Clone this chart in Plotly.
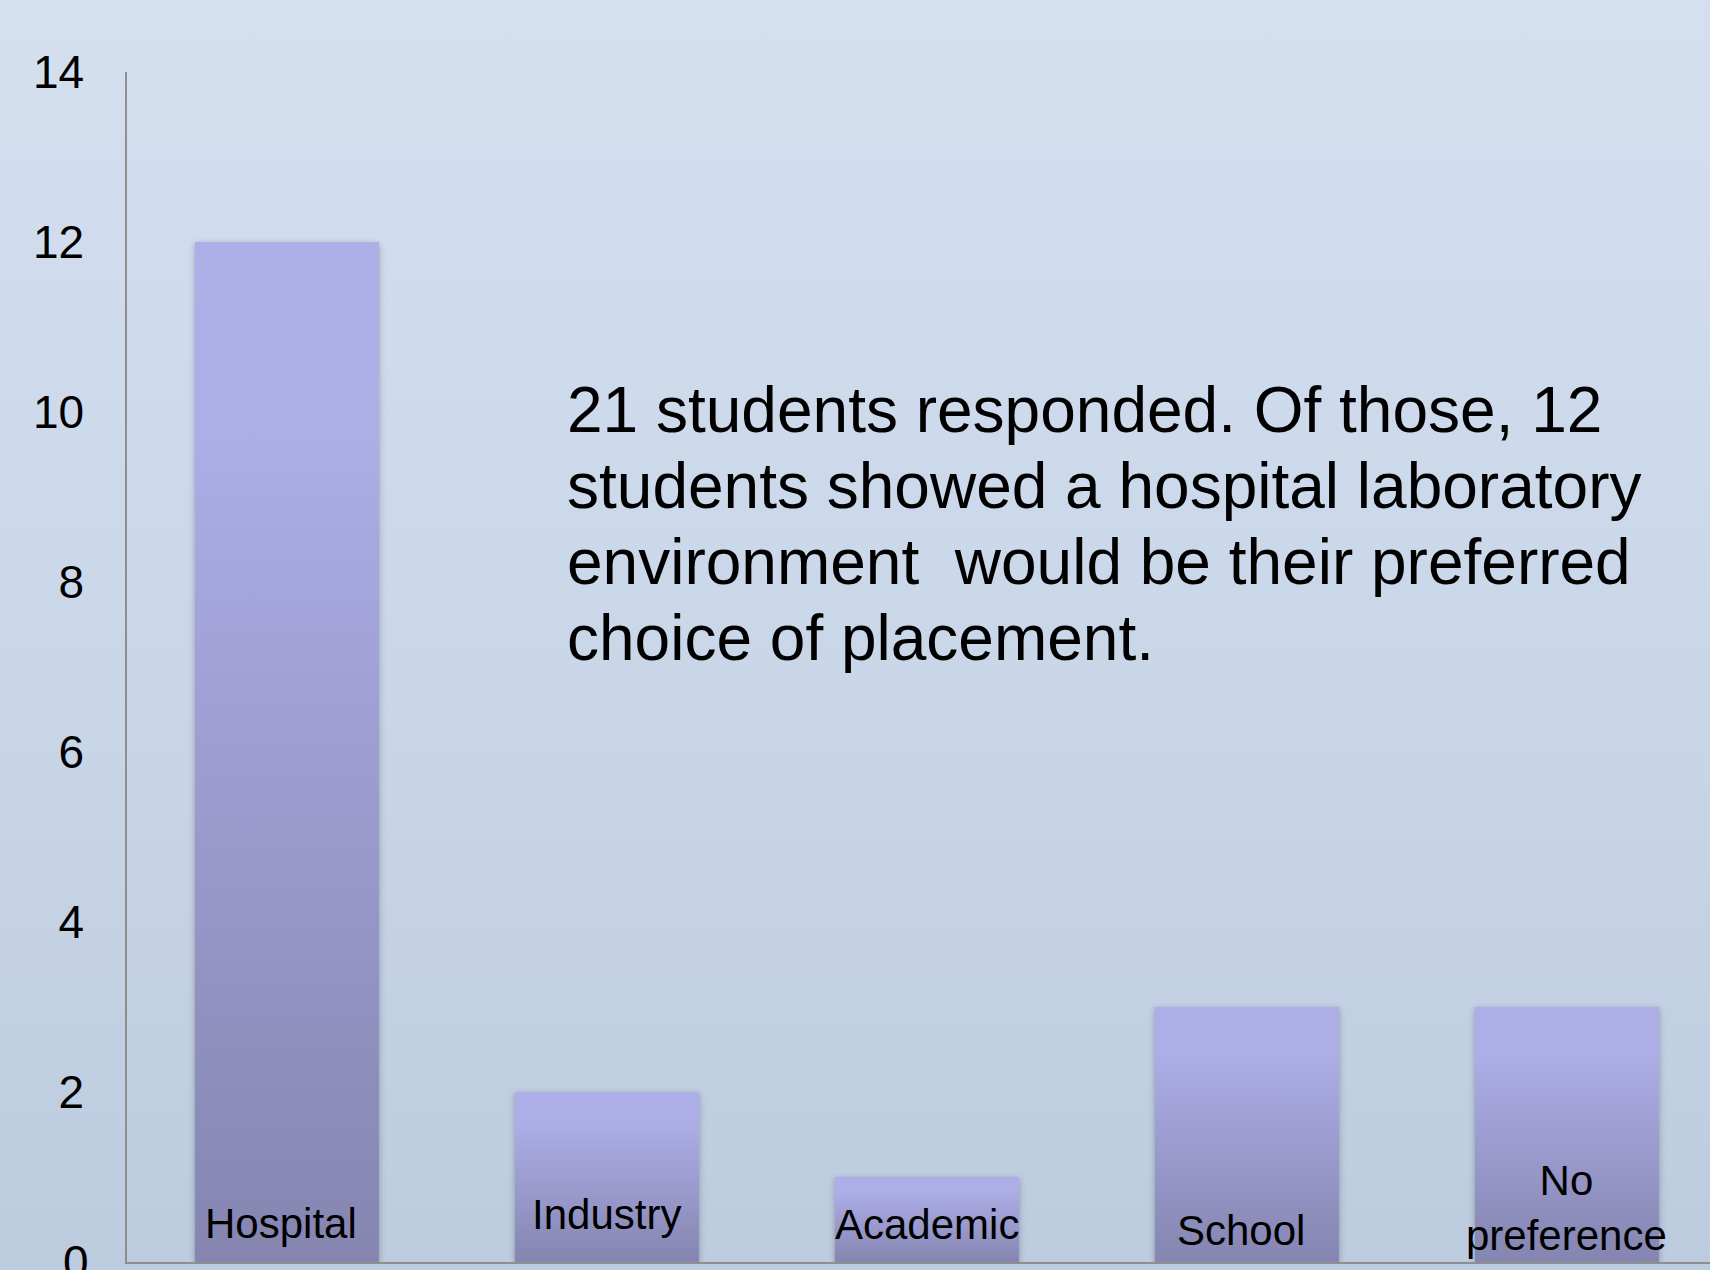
import plotly.graph_objects as go

# ---- data ----
categories = ["Hospital", "Industry", "Academic", "School", "No preference"]
category_labels = ["Hospital", "Industry", "Academic", "School", "No<br>preference"]
counts = [12, 2, 1, 3, 3]
y_ticks = [0, 2, 4, 6, 8, 10, 12, 14]
note_lines = [
    "21 students responded. Of those, 12",
    "students showed a hospital laboratory",
    "environment  would be their preferred",
    "choice of placement.",
]

# ---- layout helpers (positions / styles) ----
label_yshift = [39, 48, 38, 32, 54]
label_xshift = [-6, 0, 0, -6, 0]
note_y = [0.716, 0.652, 0.588, 0.524]
FONT = "Liberation Sans, Arial, sans-serif"
TICK_SIZE = 46
TICK_LEN = 32

fig = go.Figure()
fig.add_trace(go.Bar(
    x=list(range(len(categories))),
    y=counts,
    width=0.575,
    marker=dict(color="#9C9CD4", line=dict(width=0)),
    hoverinfo="skip",
    showlegend=False,
    customdata=categories,
))

annotations = []
for i, lab in enumerate(category_labels):
    annotations.append(dict(
        x=i, y=0, xref="x", yref="y", text=lab, showarrow=False,
        xanchor="center", yanchor="middle",
        yshift=label_yshift[i], xshift=label_xshift[i],
        font=dict(family=FONT, size=42, color="#000000"),
    ))
for j, line in enumerate(note_lines):
    annotations.append(dict(
        x=0.2765, y=note_y[j], xref="paper", yref="paper", text=line,
        showarrow=False, xanchor="left", yanchor="middle",
        font=dict(family=FONT, size=64, color="#000000"),
    ))
# the bottom tick label sits on the page edge; Plotly drops it, so draw it as text
annotations.append(dict(
    x=0, y=y_ticks[0], xref="paper", yref="y", text=str(y_ticks[0]),
    showarrow=False, xanchor="right", yanchor="middle", xshift=-(TICK_LEN + 4),
    font=dict(family=FONT, size=TICK_SIZE, color="#000000"),
))

fig.update_layout(
    width=1710, height=1270,
    margin=dict(l=127, r=0, t=72, b=8, pad=0),
    paper_bgcolor="rgba(0,0,0,0)",
    plot_bgcolor="rgba(0,0,0,0)",
    showlegend=False,
    annotations=annotations,
    xaxis=dict(
        range=[-0.5, 4.447], showticklabels=False, ticks="",
        showgrid=False, zeroline=False, showline=True,
        linecolor="#8E8E8E", linewidth=1.5, fixedrange=True,
    ),
    yaxis=dict(
        range=[0, 14], tickvals=y_ticks[1:], ticktext=[str(v) for v in y_ticks[1:]],
        showgrid=False, zeroline=False, showline=True,
        linecolor="#8E8E8E", linewidth=1.5,
        ticks="outside", ticklen=TICK_LEN, tickcolor="rgba(0,0,0,0)",
        tickfont=dict(family=FONT, size=TICK_SIZE, color="#000000"),
        fixedrange=True,
    ),
)

post_script = """
var gd = document.getElementById('{plot_id}');
document.documentElement.style.margin = '0';
document.body.style.margin = '0';
var bgGrad = 'linear-gradient(to bottom, #D4E0F0 0%, #C9D6E8 55%, #BCCBDE 100%)';
document.documentElement.style.background = bgGrad;
document.body.style.background = bgGrad;
gd.style.background = bgGrad;
function applyStyles(){
  var ns = 'http://www.w3.org/2000/svg';
  var svg = gd.querySelector('svg.main-svg');
  if(!svg) return;
  var defs = svg.querySelector('defs');
  if(!defs){ defs = document.createElementNS(ns, 'defs'); svg.insertBefore(defs, svg.firstChild); }
  if(!document.getElementById('barGradFill')){
    var lg = document.createElementNS(ns, 'linearGradient');
    lg.setAttribute('id', 'barGradFill');
    lg.setAttribute('x1', '0'); lg.setAttribute('y1', '0');
    lg.setAttribute('x2', '0'); lg.setAttribute('y2', '1');
    [['0', '#ADADE8'], ['0.18', '#ADADE8'], ['1', '#8585B0']].forEach(function(s){
      var st = document.createElementNS(ns, 'stop');
      st.setAttribute('offset', s[0]);
      st.setAttribute('stop-color', s[1]);
      lg.appendChild(st);
    });
    defs.appendChild(lg);
  }
  gd.querySelectorAll('.barlayer .point path').forEach(function(p){
    p.style.fill = 'url(#barGradFill)';
    p.style.filter = 'drop-shadow(0px 2px 3px rgba(0,0,0,0.28))';
  });
}
applyStyles();
gd.on('plotly_afterplot', applyStyles);
"""

fig.write_html("out.html", post_script=post_script)
